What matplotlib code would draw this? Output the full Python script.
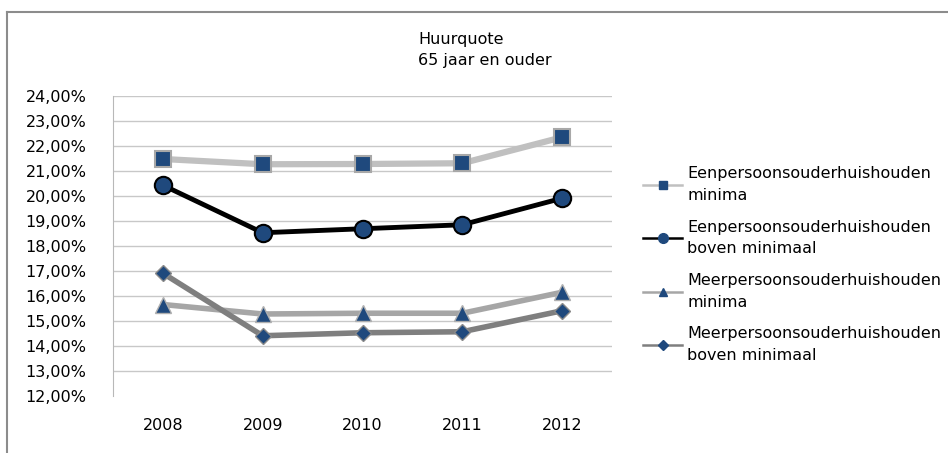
import matplotlib.pyplot as plt
from matplotlib import rcParams as defaults
from matplotlib.lines import Line2D
from matplotlib.ticker import FuncFormatter

defaults["font.family"] = "DejaVu Sans"
defaults["font.size"] = 11.5

years = ["2008", "2009", "2010", "2011", "2012"]
een_minima = [21.48, 21.27, 21.28, 21.31, 22.35]
een_boven = [20.43, 18.53, 18.69, 18.85, 19.91]
meer_minima = [15.66, 15.28, 15.31, 15.31, 16.15]
meer_boven = [16.91, 14.41, 14.53, 14.57, 15.41]

labels = [
    "Eenpersoonsouderhuishouden\nminima",
    "Eenpersoonsouderhuishouden\nboven minimaal",
    "Meerpersoonsouderhuishouden\nminima",
    "Meerpersoonsouderhuishouden\nboven minimaal",
]

navy = "#1f497d"
styles = [
    dict(color="#c0c0c0", lw=4.5, marker="s", ms=12, mec="#a8a8a8", mew=1.5),
    dict(color="#000000", lw=3.5, marker="o", ms=12.5, mec="#000000", mew=1.5),
    dict(color="#a6a6a6", lw=4, marker="^", ms=11, mec="#b0b0b0", mew=1),
    dict(color="#7f7f7f", lw=4, marker="D", ms=8.5, mec="#8a8a8a", mew=1),
]
legend_styles = [
    dict(color="#c0c0c0", lw=1.8, marker="s", ms=6, mec=navy),
    dict(color="#000000", lw=1.8, marker="o", ms=7, mec=navy),
    dict(color="#a6a6a6", lw=1.8, marker="^", ms=6, mec=navy),
    dict(color="#7f7f7f", lw=1.8, marker="D", ms=5, mec=navy),
]

fig = plt.figure(figsize=(9.48, 4.53), dpi=100)
ax = fig.add_axes([113 / 948, 1 - 396 / 453, 499 / 948, 300 / 453])

x = range(len(years))
for series, st in zip([een_minima, een_boven, meer_minima, meer_boven], styles):
    ax.plot(x, series, mfc=navy, solid_joinstyle="round", **st)

ax.set_xlim(-0.5, 4.5)
ax.set_ylim(12, 24)
ax.set_yticks(range(12, 25))
ax.yaxis.set_major_formatter(FuncFormatter(lambda v, _: f"{v:.2f}%".replace(".", ",")))
ax.set_xticks(list(x))
ax.set_xticklabels(years)
ax.tick_params(axis="y", length=0, pad=19)
ax.tick_params(axis="x", length=0, pad=16)
ax.grid(axis="y", color="#c8c8c8", lw=1)
ax.set_axisbelow(True)
ax.yaxis.get_gridlines()[0].set_visible(False)
for s in ["top", "right", "bottom"]:
    ax.spines[s].set_visible(False)
ax.spines["left"].set_color("#b8b8b8")

handles = [Line2D([], [], mfc=navy, **st) for st in legend_styles]
leg = fig.legend(handles, labels, loc="upper left", bbox_to_anchor=(629 / 948, 1 - 152 / 453),
                 frameon=False, handlelength=2.4, labelspacing=1.05, handletextpad=0.35)
for t in leg.get_texts():
    t.set_linespacing(1.55)

fig.text(418 / 948, 1 - 50 / 453, "Huurquote\n65 jaar en ouder", ha="left", va="center",
         fontsize=11.5, linespacing=1.45)

# outer chart border (top and left visible)
fig.add_artist(Line2D([7 / 948, 7 / 948], [0, 1 - 12 / 453], color="#8c8c8c", lw=1.5))
fig.add_artist(Line2D([7 / 948, 1], [1 - 12 / 453, 1 - 12 / 453], color="#8c8c8c", lw=1.5))

plt.savefig("out.png", dpi=100)
